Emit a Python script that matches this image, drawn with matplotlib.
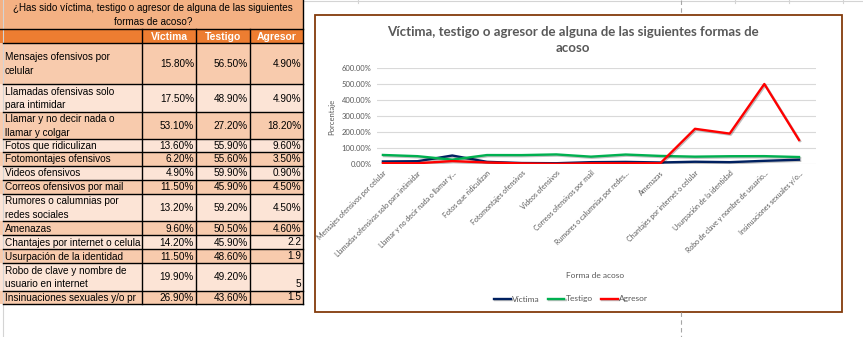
"""Tabla y grafico de formas de acoso (victima, testigo, agresor)"""

import matplotlib.pyplot as plt
import matplotlib.patheffects as pe
from matplotlib.patches import Rectangle
from matplotlib.ticker import PercentFormatter
from matplotlib.transforms import ScaledTranslation

pregunta = "¿Has sido víctima, testigo o agresor de alguna de las siguientes\nformas de acoso?"
columnas = ["Víctima", "Testigo", "Agresor"]
# tal como se ve en la hoja (las celdas largas quedan cortadas por la columna)
formas_tabla = ["Mensajes ofensivos por\ncelular",
                "Llamadas ofensivas solo\npara intimidar",
                "Llamar y no decir nada o\nllamar y colgar",
                "Fotos que ridiculizan",
                "Fotomontajes ofensivos",
                "Videos ofensivos",
                "Correos ofensivos por mail",
                "Rumores o calumnias por\nredes sociales",
                "Amenazas",
                "Chantajes por internet o celula",
                "Usurpación de la identidad",
                "Robo de clave y nombre de\nusuario en internet",
                "Insinuaciones sexuales y/o pr"]
formas_eje = ["Mensajes ofensivos por celular",
              "Llamadas ofensivas solo para intimidar",
              "Llamar y no decir nada o llamar y...",
              "Fotos que ridiculizan",
              "Fotomontajes ofensivos",
              "Videos ofensivos",
              "Correos ofensivos por mail",
              "Rumores o calumnias por redes...",
              "Amenazas",
              "Chantajes por internet o celular",
              "Usurpación de la identidad",
              "Robo de clave y nombre de usuario...",
              "Insinuaciones sexuales y/o..."]
victima = [0.158, 0.175, 0.531, 0.136, 0.062, 0.049, 0.115, 0.132, 0.096, 0.142, 0.115, 0.199, 0.269]
testigo = [0.565, 0.489, 0.272, 0.559, 0.556, 0.599, 0.459, 0.592, 0.505, 0.459, 0.486, 0.492, 0.436]
agresor = [0.049, 0.049, 0.182, 0.096, 0.035, 0.009, 0.045, 0.045, 0.046, 2.2, 1.9, 5, 1.5]

titulo = "Víctima, testigo o agresor de alguna de las siguientes formas de\nacoso"

W, H = 863, 337
GRIS = "#595959"
CELDA = ["Liberation Sans", "DejaVu Sans"]
CALIBRI = ["Lato", "DejaVu Sans"]


def fmt(v):
    return f"{v * 100:.2f}%" if v < 1 else f"{v:g}"


def main():
    fig = plt.figure(figsize=(W / 100, H / 100), dpi=100)
    ax0 = fig.add_axes([0, 0, 1, 1])
    ax0.set_xlim(0, W)
    ax0.set_ylim(H, 0)
    ax0.axis("off")

    # hoja de excel
    ax0.plot([3, 3], [0, H], color="#D4D4D4", lw=0.8)
    ax0.plot([303, W], [1, 1], color="#D4D4D4", lw=0.8)
    for x in [358, 735, 789, 843]:
        ax0.plot([x, x], [0, 3], color="#D4D4D4", lw=0.8)
    ax0.plot([681, 681], [0, 15], color="#A6A6A6", lw=0.8, ls=(0, (4, 3)))
    ax0.plot([681, 681], [312, H], color="#A6A6A6", lw=0.8, ls=(0, (4, 3)))

    # tabla
    col_x = [0, 142, 196, 250, 303]
    row_y = [43, 84, 112, 139, 152, 166, 180, 194, 221, 235, 249, 263, 291, 304]
    ax0.add_patch(Rectangle((0, 0), 303, 29, facecolor="#F4B183", edgecolor="none"))
    ax0.text(153, 15, pregunta, ha="center", va="center", fontsize=7.1,
             family=CELDA, linespacing=1.45)
    ax0.add_patch(Rectangle((0, 29), 303, 14, facecolor="#ED7D31", edgecolor="none"))
    for j, c in enumerate(columnas):
        ax0.text((col_x[j + 1] + col_x[j + 2]) / 2, 36.5, c, ha="center", va="center",
                 fontsize=7.5, weight="bold", color="white", family=CELDA)
    for i in range(len(formas_tabla)):
        y0, y1 = row_y[i], row_y[i + 1]
        color = "#F8CBAD" if i % 2 == 0 else "#FCE4D6"
        ax0.add_patch(Rectangle((0, y0), 303, y1 - y0, facecolor=color, edgecolor="none"))
        clip = Rectangle((0, y0), 141, y1 - y0, transform=ax0.transData)
        t = ax0.text(5, (y0 + y1) / 2 + 0.5, formas_tabla[i], ha="left", va="center",
                     fontsize=7.2, family=CELDA, linespacing=1.45)
        t.set_clip_path(clip)
        t.set_clip_on(True)
        vals = [fmt(victima[i]), fmt(testigo[i]), fmt(agresor[i])]
        for j, v in enumerate(vals):
            yv = (y0 + y1) / 2 + 0.5
            if agresor[i] >= 1 and j == 2:
                yv = y1 - 7
            ax0.text(col_x[j + 2] - 2, yv, v, ha="right", va="center",
                     fontsize=7.2, family=CELDA)
    # bordes
    ax0.plot([0, 303], [29, 29], color="black", lw=1)
    for y in row_y:
        ax0.plot([3, 303], [y, y], color="black", lw=1)
    for x in col_x[1:4]:
        ax0.plot([x, x], [29, 304], color="black", lw=1)
    ax0.plot([303, 303], [0, 304], color="black", lw=1)

    # marco del grafico
    ax0.add_patch(Rectangle((315, 15), 527, 297, facecolor="white",
                            edgecolor="#843C0C", lw=1.3))
    ax0.text(573, 40, titulo, ha="center", va="center", fontsize=9.5, weight="bold",
             color=GRIS, family=CALIBRI, linespacing=1.3)
    ax0.text(332, 117, "Porcentaje", rotation=90, ha="center", va="center",
             fontsize=5.5, color=GRIS, family=CALIBRI)
    ax0.text(595, 276, "Forma de acoso", ha="center", va="center",
             fontsize=6, color=GRIS, family=CALIBRI)

    # grafico de lineas
    ax = fig.add_axes([377 / W, 1 - 164 / H, 439 / W, 96 / H])
    ax.patch.set_alpha(0)
    x = range(len(formas_eje))
    sombra = [pe.SimpleLineShadow(offset=(0.8, -0.8), alpha=0.25), pe.Normal()]
    ax.plot(x, victima, color="#002060", lw=1.7, label="Víctima", path_effects=sombra)
    ax.plot(x, testigo, color="#00B050", lw=1.7, label="Testigo", path_effects=sombra)
    ax.plot(x, agresor, color="#FF0000", lw=1.7, label="Agresor", path_effects=sombra)
    ax.set_ylim(0, 6)
    ax.set_yticks([0, 1, 2, 3, 4, 5, 6])
    ax.yaxis.set_major_formatter(PercentFormatter(xmax=1, decimals=2))
    ax.set_xlim(-0.17, 12.49)
    ax.set_xticks(list(x))
    ax.set_xticklabels(formas_eje, rotation=45, ha="right", va="top",
                       rotation_mode="anchor", fontsize=5.0, color=GRIS, family=CALIBRI)
    desplaza = ScaledTranslation(9 / 100, -2 / 100, fig.dpi_scale_trans)
    for lab in ax.get_xticklabels():
        lab.set_transform(lab.get_transform() + desplaza)
    for lab in ax.get_yticklabels():
        lab.set_fontsize(5.5)
        lab.set_color(GRIS)
        lab.set_family(CALIBRI)
    ax.tick_params(length=0, pad=4)
    ax.yaxis.grid(True, color="#D9D9D9", lw=0.8)
    ax.set_axisbelow(True)
    for s in ax.spines.values():
        s.set_visible(False)
    leg = ax.legend(loc="center", bbox_to_anchor=(571 / W, 1 - 299 / H),
                    bbox_transform=fig.transFigure, ncol=3, frameon=False,
                    handlelength=2.0, columnspacing=1.0, handletextpad=0.15,
                    prop={"family": CALIBRI, "size": 6})
    for t in leg.get_texts():
        t.set_color(GRIS)

    fig.savefig("out.png", dpi=100)


main()
